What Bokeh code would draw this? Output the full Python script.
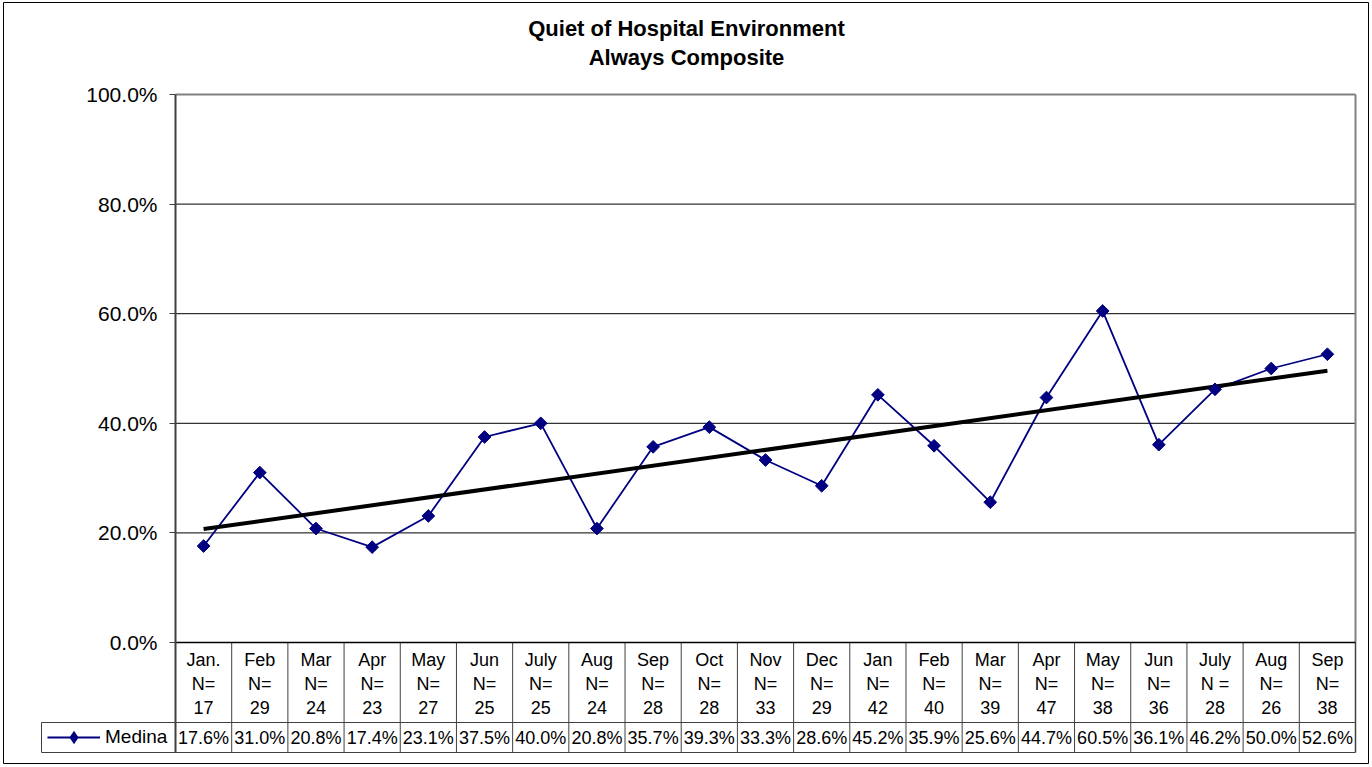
import numpy as np
from bokeh.plotting import figure
from bokeh.models import (Range1d, FixedTicker, PrintfTickFormatter,
                          Legend, LegendItem)
from bokeh.core.properties import value
from bokeh.embed import file_html
from bokeh.resources import INLINE

# ---------------- data ----------------
title_1 = "Quiet of Hospital Environment"
title_2 = "Always Composite"
series_name = "Medina"
months = ["Jan.", "Feb", "Mar", "Apr", "May", "Jun", "July", "Aug", "Sep", "Oct",
          "Nov", "Dec", "Jan", "Feb", "Mar", "Apr", "May", "Jun", "July", "Aug", "Sep"]
n_labels = ["N=", "N=", "N=", "N=", "N=", "N=", "N=", "N=", "N=", "N=",
            "N=", "N=", "N=", "N=", "N=", "N=", "N=", "N=", "N =", "N=", "N="]
n_values = [17, 29, 24, 23, 27, 25, 25, 24, 28, 28, 33, 29, 42, 40, 39, 47, 38, 36, 28, 26, 38]
medina = [17.6, 31.0, 20.8, 17.4, 23.1, 37.5, 40.0, 20.8, 35.7, 39.3, 33.3,
          28.6, 45.2, 35.9, 25.6, 44.7, 60.5, 36.1, 46.2, 50.0, 52.6]
trend_values = [20.7, 49.6]          # linear trend line, first and last month
y_ticks = [0, 20, 40, 60, 80, 100]
grid_values = [20, 40, 60, 80]

# ---------------- layout / style ----------------
W, H = 1370, 765
PLOT_LEFT, PLOT_RIGHT, PLOT_TOP, ZERO_Y = 175, 1355, 94, 642
PX_PER_PCT = (ZERO_Y - PLOT_TOP) / 100.0
PX_PER_CAT = (PLOT_RIGHT - PLOT_LEFT) / len(months)

x_lo, x_hi = -0.5, len(months) - 0.5
x_start = x_lo - PLOT_LEFT / PX_PER_CAT
x_end = x_hi + (W - PLOT_RIGHT) / PX_PER_CAT
y_top = 100 + PLOT_TOP / PX_PER_PCT
y_bottom = -(H - ZERO_Y) / PX_PER_PCT


def px_x(px):
    """data x of a horizontal page pixel position"""
    return x_start + px / PX_PER_CAT


def px_y(py):
    """data y of a vertical page pixel position"""
    return 100 - (py - PLOT_TOP) / PX_PER_PCT


NAVY = "#000080"
SANS = "Liberation Sans"
GRID = "#404040"

idx = list(range(len(months)))
trend_x = [idx[0], idx[-1]]
table_bottom = px_y(752)
row_sep = px_y(722)
cell_left = px_x(41)

p = figure(width=W, height=H,
           x_range=Range1d(x_start, x_end),
           y_range=Range1d(y_bottom, y_top),
           output_backend="svg", toolbar_location=None,
           x_axis_location=None, y_axis_location="left",
           min_border=0)
p.background_fill_color = "white"
p.border_fill_color = "white"
p.outline_line_color = None
p.xgrid.visible = False
p.ygrid.visible = False

# y axis, fixed at the left edge of the plot area
yax = p.yaxis[0]
yax.fixed_location = x_lo
yax.bounds = (table_bottom, 100)
yax.ticker = FixedTicker(ticks=y_ticks)
yax.formatter = PrintfTickFormatter(format="%.1f%%")
yax.axis_line_color = GRID
yax.axis_line_width = 2
yax.major_tick_line_color = GRID
yax.major_tick_out = 6
yax.major_tick_in = 0
yax.minor_tick_line_color = None
yax.major_label_standoff = 12
yax.major_label_text_font = SANS
yax.major_label_text_font_size = "21px"
yax.major_label_text_color = "black"

# chart border
p.quad(left=px_x(3), right=px_x(1368), top=px_y(2), bottom=px_y(763),
       fill_color=None, line_color="black", line_width=1)

# titles
p.text(x=px_x(686), y=[px_y(28), px_y(57)], text=[title_1, title_2],
       text_align="center", text_baseline="middle", text_font=value(SANS),
       text_font_size="22px", text_font_style="bold", text_color="black")

# plot-area gridlines and border
p.segment(x0=x_lo, y0=grid_values, x1=x_hi, y1=grid_values, line_color="black", line_width=1)
p.segment(x0=x_lo, y0=100, x1=x_hi, y1=100, line_color="#808080", line_width=2)
p.segment(x0=x_hi, y0=0, x1=x_hi, y1=100, line_color="#808080", line_width=2)

# series
line_r = p.line(idx, medina, line_color=NAVY, line_width=1.8)
p.line(trend_x, trend_values, line_color="black", line_width=4)
p.scatter(idx, medina, marker="square", size=9, angle=np.pi / 4,
          fill_color=NAVY, line_color=NAVY)
# legend key marker: same points at zero size (legend keys are drawn unrotated,
# so the key uses a diamond marker, sized by the legend itself)
key_r = p.scatter(idx, medina, marker="diamond", size=0,
                  fill_color=NAVY, line_color=None)

# data table below the plot
seps = [i + 0.5 for i in idx[:-1]]
p.segment(x0=seps, y0=0, x1=seps, y1=table_bottom, line_color=GRID, line_width=1)
p.segment(x0=x_hi, y0=table_bottom, x1=x_hi, y1=0, line_color=GRID, line_width=1.5)
p.segment(x0=cell_left, y0=[row_sep, table_bottom], x1=x_hi, y1=[row_sep, table_bottom],
          line_color=GRID, line_width=1)
p.segment(x0=cell_left, y0=row_sep, x1=cell_left, y1=table_bottom, line_color=GRID, line_width=1)
p.segment(x0=x_lo, y0=0, x1=x_hi, y1=0, line_color="black", line_width=1.5)

txt = dict(text_align="center", text_baseline="middle", text_font=value(SANS),
           text_font_size="18px", text_color="black")
p.text(x=idx, y=px_y(659), text=months, **txt)
p.text(x=idx, y=px_y(683), text=n_labels, **txt)
p.text(x=idx, y=px_y(707), text=[str(n) for n in n_values], **txt)
p.text(x=idx, y=px_y(737), text=[f"{v:.1f}%" for v in medina], **txt)

# legend key in the value row cell
legend = Legend(items=[LegendItem(label=series_name, renderers=[line_r, key_r])],
                location=(47, H - 754), margin=0, padding=0, spacing=0,
                glyph_width=53, glyph_height=34, label_width=60, label_height=34,
                label_standoff=5, label_text_font=SANS, label_text_font_size="19px",
                label_text_color="black",
                border_line_color=None, background_fill_alpha=0)
p.add_layout(legend)

open("out.html", "w").write(file_html(p, INLINE))
